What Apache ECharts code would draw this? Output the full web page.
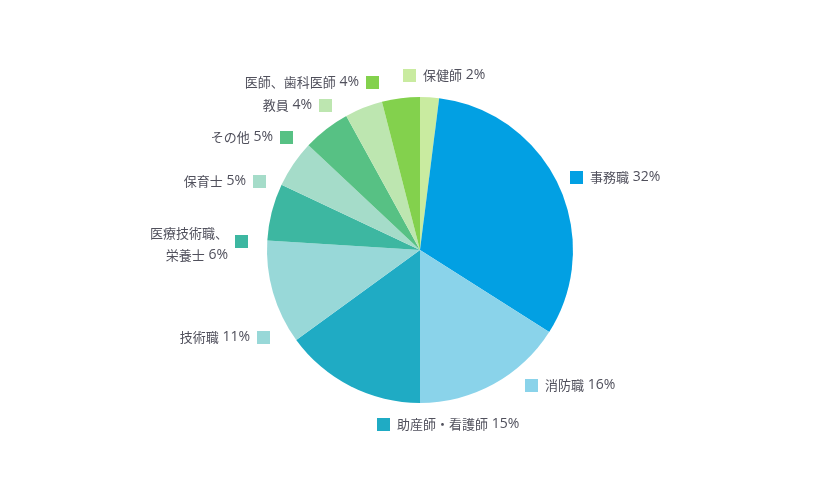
<!DOCTYPE html>
<html>
<head>
<meta charset="utf-8">
<script src="https://cdn.jsdelivr.net/npm/echarts@6/dist/echarts.min.js"></script>
<style>
  html, body { margin: 0; padding: 0; background: #fff; }
  #chart { width: 840px; height: 500px; }
</style>
</head>
<body>
<div id="chart"></div>
<script>
// Job categories, clockwise from 12 o'clock
const categories = ['保健師', '事務職', '消防職', '助産師・看護師', '技術職',
  '医療技術職、\n栄養士', '保育士', 'その他', '教員', '医師、歯科医師'];
const shares = [2, 32, 16, 15, 11, 6, 5, 5, 4, 4];
const colors = ['#c9eba0', '#02a0e3', '#8ad3ea', '#1fabc4', '#98d8d8',
  '#3db7a1', '#a5dcc9', '#57c184', '#bde6b0', '#83d14d'];

// Label placement: which side the colour square sits on, and anchor offset from pie centre
const squareSide = ['left', 'left', 'left', 'left', 'right', 'right', 'right', 'right', 'right', 'right'];
const labelOffset = [[-17, -175], [150, -73], [105, 135], [-43, 174], [-150, 87],
  [-172, -10], [-154, -69], [-127, -113], [-88, -145], [-41, -168]];

const textColor = '#50505c';
const cjk = '"Noto Sans CJK JP", sans-serif';
const latin = '"Open Sans", "Noto Sans CJK JP", sans-serif';
const rich = {
  t: { fontSize: 13, color: textColor, fontFamily: cjk },
  tt: { fontSize: 13, color: textColor, fontFamily: cjk, lineHeight: 30 },
  tb: { fontSize: 13, color: textColor, fontFamily: cjk, lineHeight: 14 },
  p: { fontSize: 14, color: textColor, fontFamily: latin },
  g: { width: 7 },
  blank: { width: 13, height: 13 }
};
colors.forEach((c, i) => {
  rich['s' + i] = { width: 13, height: 13, backgroundColor: c, verticalAlign: 'bottom' };
});

function labelText(p) {
  const i = p.dataIndex;
  const lines = categories[i].split('\n');
  return lines.map((line, k) => {
    const style = lines.length === 1 ? 't' : (k === 0 ? 'tt' : 'tb');
    let body = '{' + style + '|' + line + '}';
    if (k === lines.length - 1) body += '{p| ' + shares[i] + '%}';
    const sq = k === 0 ? '{s' + i + '|}' : '{blank|}';
    return squareSide[i] === 'left' ? sq + '{g|}' + body : body + '{g|}' + sq;
  }).join('\n');
}

const chart = echarts.init(document.getElementById('chart'));
chart.setOption({
  animation: false,
  color: colors,
  series: [{
    type: 'pie',
    radius: 153,
    center: ['50%', '50%'],
    startAngle: 90,
    clockwise: true,
    avoidLabelOverlap: false,
    itemStyle: { borderWidth: 0 },
    label: {
      show: true,
      position: 'outside',
      formatter: labelText,
      rich: rich
    },
    labelLine: { show: false },
    emphasis: { scale: false },
    labelLayout: (params) => {
      const i = params.dataIndex;
      const cx = chart.getWidth() / 2;
      const cy = chart.getHeight() / 2;
      return {
        x: cx + labelOffset[i][0],
        y: cy + labelOffset[i][1],
        align: squareSide[i],
        verticalAlign: 'middle'
      };
    },
    data: categories.map((name, i) => ({ name: name, value: shares[i] }))
  }]
});
</script>
</body>
</html>
